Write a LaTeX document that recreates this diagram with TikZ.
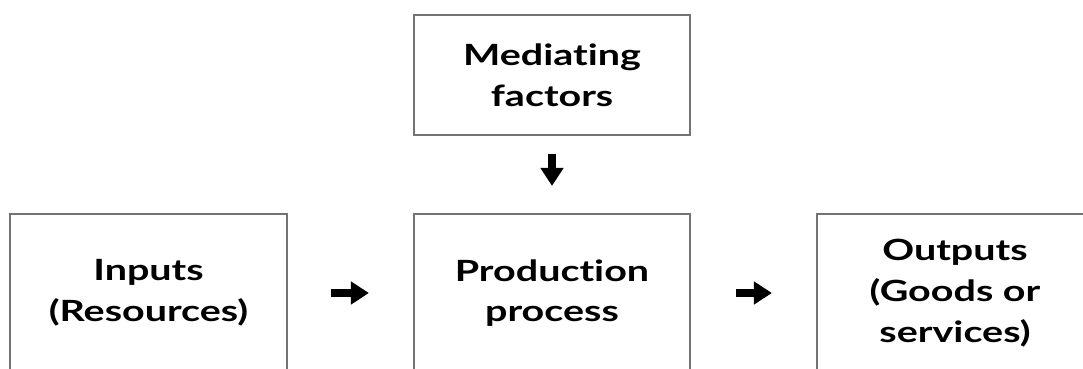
\documentclass[tikz,border=0pt]{standalone}
\usepackage{fontspec}
\setmainfont{Lato}[FakeStretch=1.35, Ligatures={NoCommon, NoContextual}]
\usetikzlibrary{arrows.meta}

\begin{document}
\begin{tikzpicture}[
    box/.style={draw=black!55, line width=1.5pt, align=center, inner sep=0pt,
        minimum width=6.9cm, font=\bfseries\fontsize{20.8}{29}\selectfont},
    fatarrow/.style={line width=0.2cm, -{Triangle[width=0.55cm, length=0.45cm]}}
]
\useasboundingbox (0, 0) rectangle (27.075, 9.2);
\clip (0, 0) rectangle (27.075, 9.2);

% Draw boxes.
\node[box, minimum height=3cm]
    (mediating) at (13.8, 7.325) {Mediating\\factors};
\node[box, minimum width=6.925cm, minimum height=3.95cm]
    (inputs) at (3.7125, 1.875) {Inputs\\(Resources)};
\node[box, minimum height=3.95cm]
    (production) at (13.8, 1.875) {Production\\process};
\node[box, minimum height=3.95cm]
    (outputs) at (23.875, 1.875) {Outputs\\(Goods or\\services)};

% Draw arrows.
\draw[fatarrow] ([xshift=1.075cm]inputs.east) -- ([xshift=-1.1cm]production.west);
\draw[fatarrow] ([xshift=1.125cm]production.east) -- ([xshift=-1.1cm]outputs.west);
\draw[fatarrow] ([yshift=-0.45cm]mediating.south) -- ([yshift=0.675cm]production.north);

\end{tikzpicture}
\end{document}
